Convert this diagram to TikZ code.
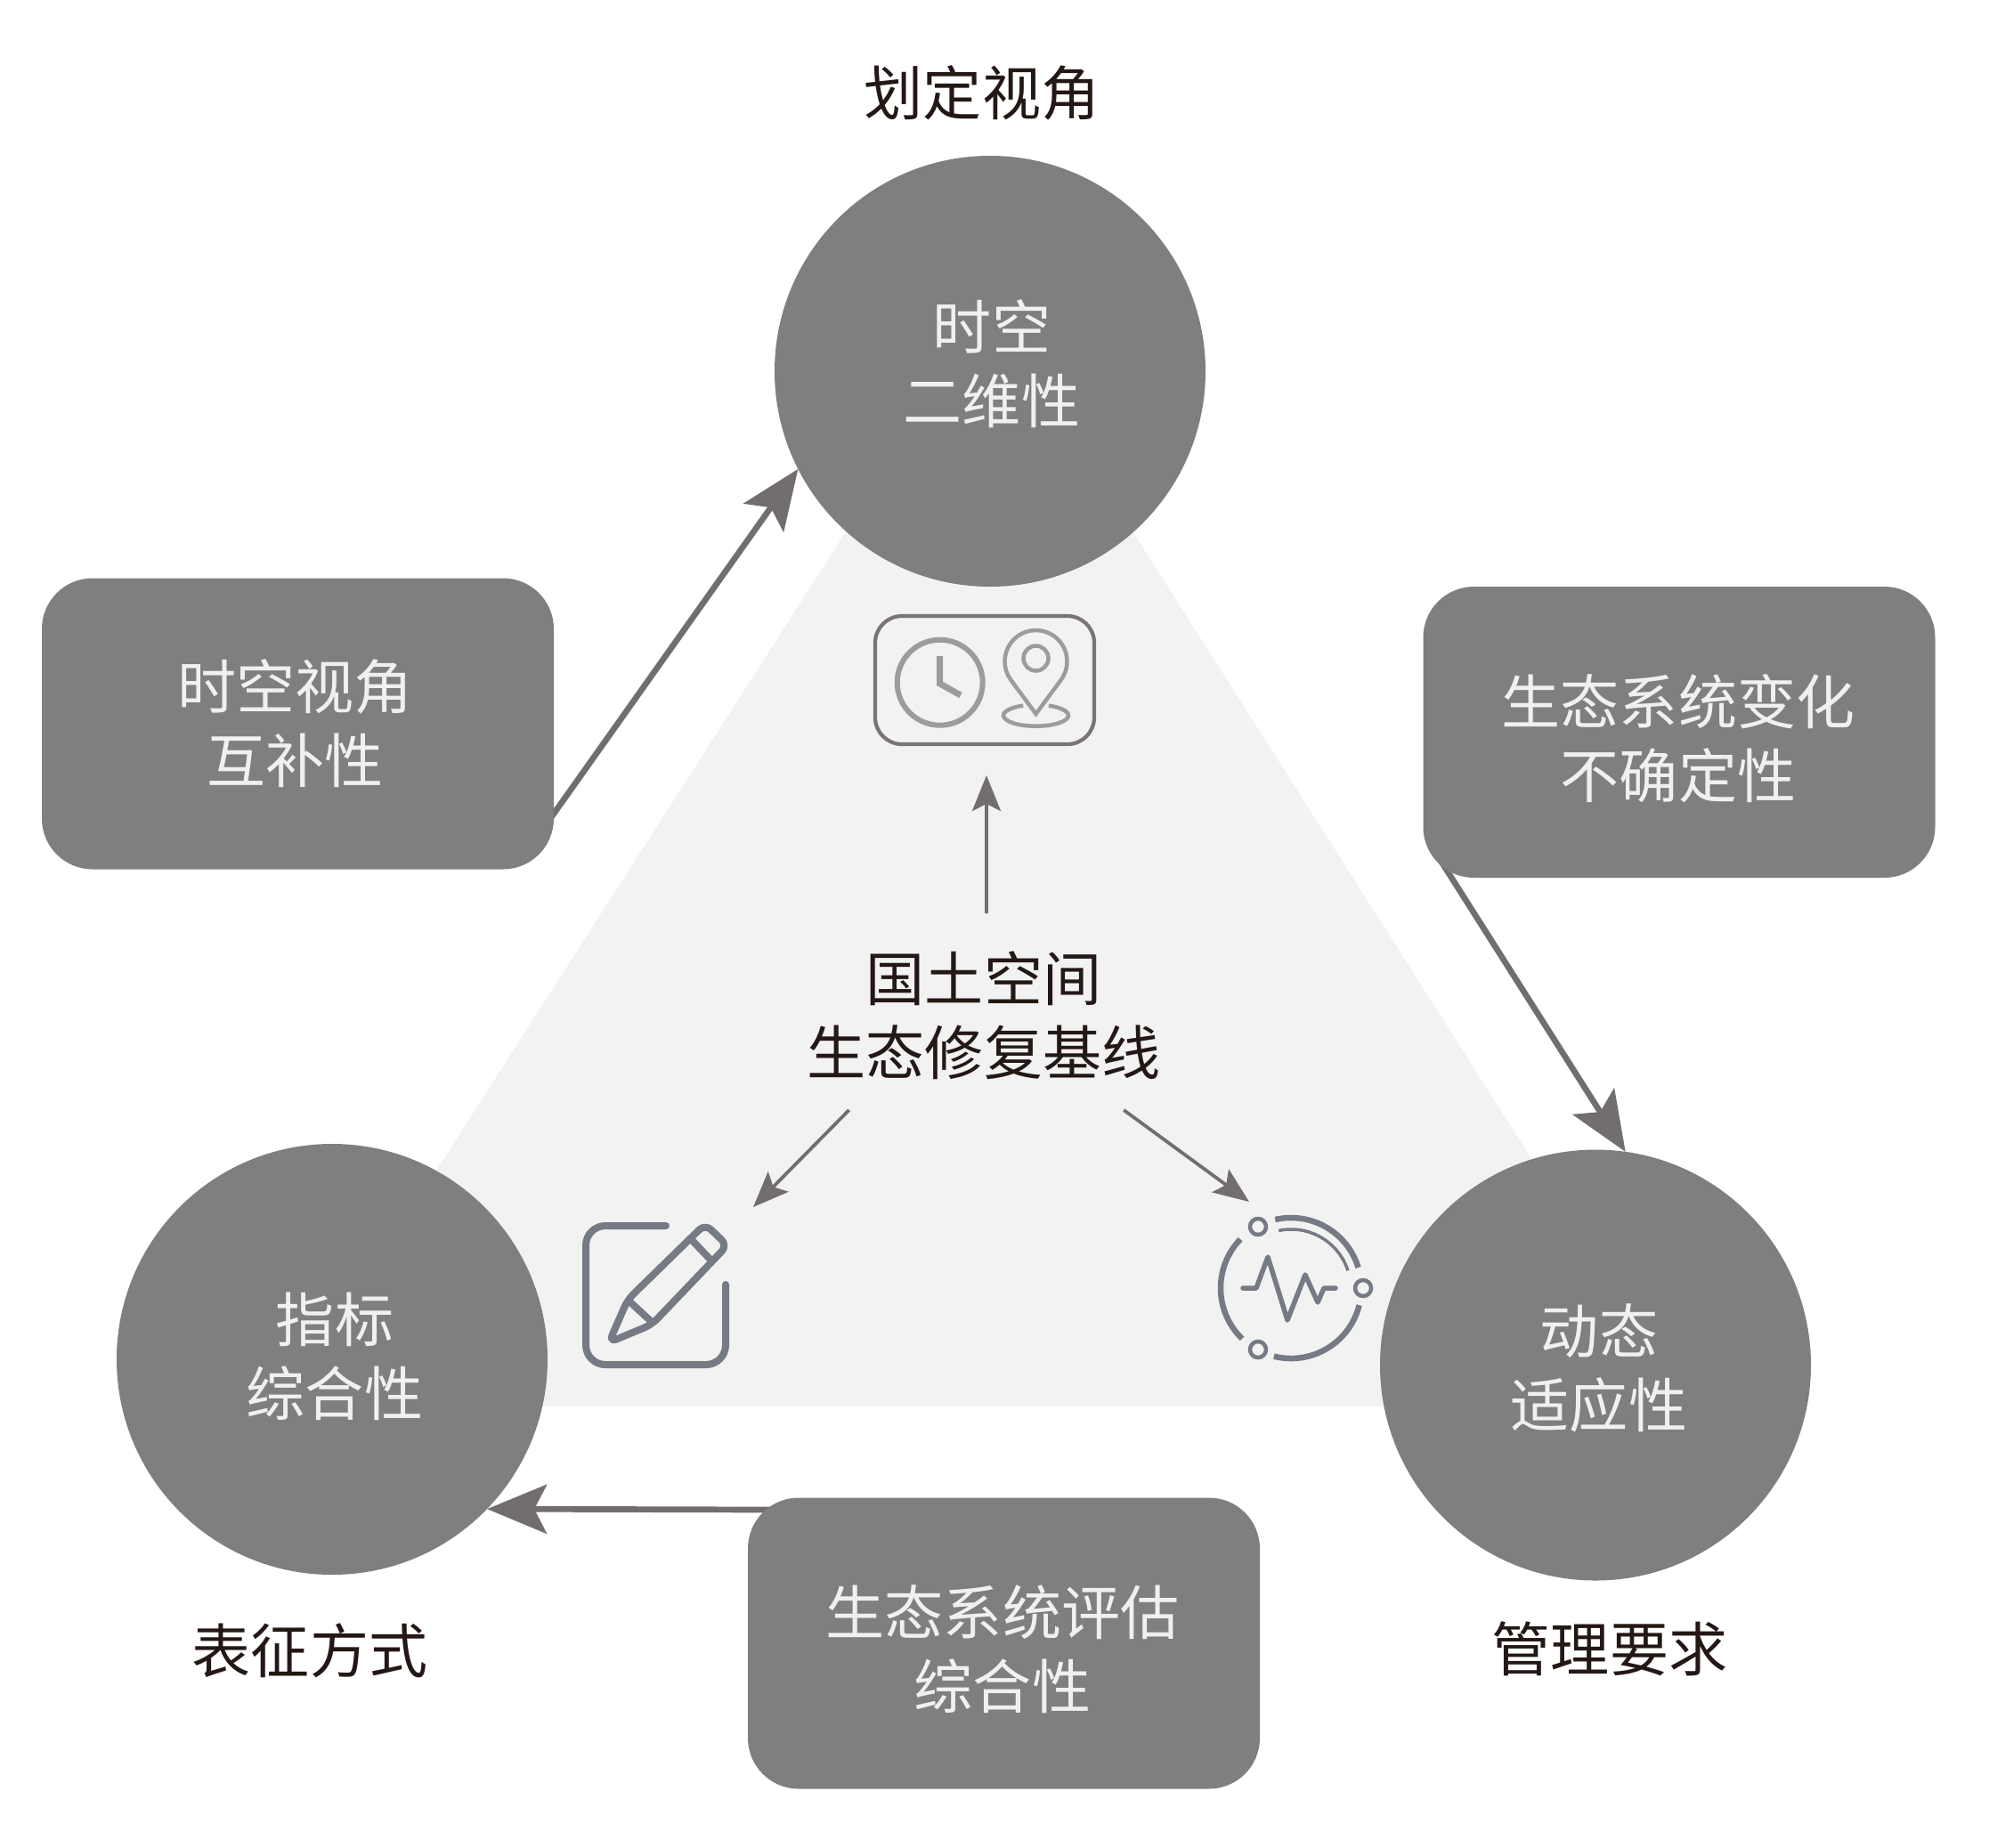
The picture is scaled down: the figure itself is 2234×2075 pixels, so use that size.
\documentclass[tikz,border=0pt]{standalone}
\usepackage{fontspec}
\setmainfont{Noto Sans CJK SC}
\usetikzlibrary{arrows.meta}
\definecolor{darkgrey}{RGB}{127, 127, 127}
\definecolor{arrowgrey}{RGB}{115, 110, 110}
\definecolor{palegrey}{RGB}{242, 242, 242}
\definecolor{icongrey}{RGB}{117, 122, 133}
\definecolor{lightink}{RGB}{156, 156, 156}
\definecolor{framegrey}{RGB}{122, 116, 116}
\definecolor{blackink}{RGB}{35, 24, 21}
\definecolor{whiteink}{RGB}{240, 240, 240}
\tikzstyle{cntext}=[align=center,font=\fontsize{18.8}{23.6}\selectfont,inner sep=0pt,outer sep=0pt]
\tikzstyle{viewcircle}=[circle,fill=darkgrey,inner sep=0pt,outer sep=0pt,minimum size=48.4mm]
\tikzstyle{notebox}=[fill=darkgrey,inner sep=0pt,outer sep=0pt,rounded corners=5.7mm,minimum width=57.5mm,minimum height=32.7mm]
\tikzstyle{whitetext}=[cntext,text=whiteink]
\tikzstyle{sidelabel}=[cntext,text=blackink]
\tikzstyle{bigarc}=[-{Stealth[length=6.7mm,width=5.5mm,inset=1.4mm]},arrowgrey,line width=0.67mm]
\tikzstyle{smallarc}=[-{Stealth[length=4mm,width=3.2mm,inset=0.8mm]},arrowgrey,line width=0.38mm]
\tikzstyle{iconline}=[icongrey,line width=0.8mm,line cap=round,line join=round]
\tikzstyle{clockline}=[lightink,line width=0.6mm]
\begin{document}
\begin{tikzpicture}[x=0.1mm,y=-0.1mm]
\useasboundingbox (0,0) rectangle (2234,2075);

\fill[palegrey] (1112,345) -- (1897,1580) -- (320,1580) -- cycle;

\node[viewcircle] (C1) at (1112,417) {};
\node[viewcircle] (C2) at (373,1527) {};
\node[viewcircle] (C3) at (1792,1533.5) {};

\node[sidelabel] (L1) at (1103,104) {划定视角};
\node[sidelabel] (L2) at (348,1854) {表征方式};
\node[sidelabel] (L3) at (1808,1852) {管理要求};

% arrows go under the boxes
\coordinate (B1OUT) at (610,931);
\coordinate (B2OUT) at (1617,965);
\coordinate (B3OUT) at (870,1696);
\draw[bigarc] (B1OUT) -- (C1.207.7);
\draw[bigarc] (B2OUT) -- (C3.82.2);
\draw[bigarc] (B3OUT) -- (C2.-44.3);

\node[notebox] (B1) at (334.5,813) {};
\node[notebox] (B2) at (1886,822.5) {};
\node[notebox] (B3) at (1127.5,1846) {};

\node[whitetext] (T1) at (1114,408.5) {时空\\二维性};
\node[whitetext] (T2) at (376,1524) {指标\\综合性};
\node[whitetext] (T3) at (1796,1537) {动态\\适应性};
\node[whitetext] (T4) at (331.5,813) {时空视角\\互补性};
\node[whitetext] (T5) at (1885,830) {生态系统变化\\不确定性};
\node[whitetext] (T6) at (1126,1853) {生态系统评估\\综合性};

\node[cntext,text=blackink,minimum height=21.2mm] (BASE) at (1105,1141) {国土空间\\生态修复基线};
\coordinate (BASEUP) at ([xshift=0.3mm,yshift=0.9mm]BASE.north);
\coordinate (TIPT) at (1108,871);
\coordinate (TIPP) at (846,1356);
\coordinate (TIPW) at (1403,1350);
\draw[smallarc] (BASEUP) -- (TIPT);
\draw[smallarc] (BASE.215.2) -- (TIPP);
\draw[smallarc] (BASE.-34.4) -- (TIPW);

% clock and pin
\node[draw=framegrey,line width=0.42mm,rounded corners=3mm,minimum width=24.6mm,minimum height=14.4mm,inner sep=0pt] (ICONT) at (1106,764) {};
\draw[clockline] (1055.7,766.7) circle[radius=48];
\draw[clockline,line width=0.7mm] (1055.7,737) -- (1055.7,768) -- (1079,781);
\begin{scope}[shift={(1163.5,743)},x=0.1mm,y=0.1mm,lightink,line width=0.45mm]
\draw (0,-59) -- (-36.4:35) arc[start angle=-36.4,end angle=216.4,radius=35] -- cycle;
\draw (0,3.5) circle[radius=14];
\draw (0,-60.7) ++(113:36.5 and 12) arc[start angle=113,end angle=427,x radius=36.5,y radius=12];
\end{scope}

% pencil
\draw[iconline,rounded corners=2.2mm] (748,1377) -| (658,1533) -| (815,1443);
\draw[iconline,rounded corners=0.9mm] (684,1508) -- (705,1460) -- (792,1375) -- (817,1399) -- (732,1488) -- cycle;
\draw[iconline] (707,1462) -- (732,1485);
\draw[iconline] (777,1393) -- (798,1415);

% pulse ring
\begin{scope}[shift={(1450,1447)},x=0.1mm,y=0.1mm,icongrey,line width=0.65mm]
\draw (136:79) arc[start angle=136,end angle=226,radius=79];
\draw (103:79) arc[start angle=103,end angle=17,radius=79];
\draw (-14:79) arc[start angle=-14,end angle=-104,radius=79];
\draw[line width=0.35mm] (102:66) arc[start angle=102,end angle=18,radius=67];
\foreach \rx/\ry in {-37/69,81/0,-37/-69}
  \draw[line width=0.45mm] (\rx,\ry) circle[radius=9];
\end{scope}
\draw[iconline,line width=0.55mm] (1396,1447) -- (1411,1447) -- (1424,1412) -- (1446,1483) -- (1466,1432) -- (1480,1463) -- (1487,1447) -- (1500,1447);
\end{tikzpicture}
\end{document}
